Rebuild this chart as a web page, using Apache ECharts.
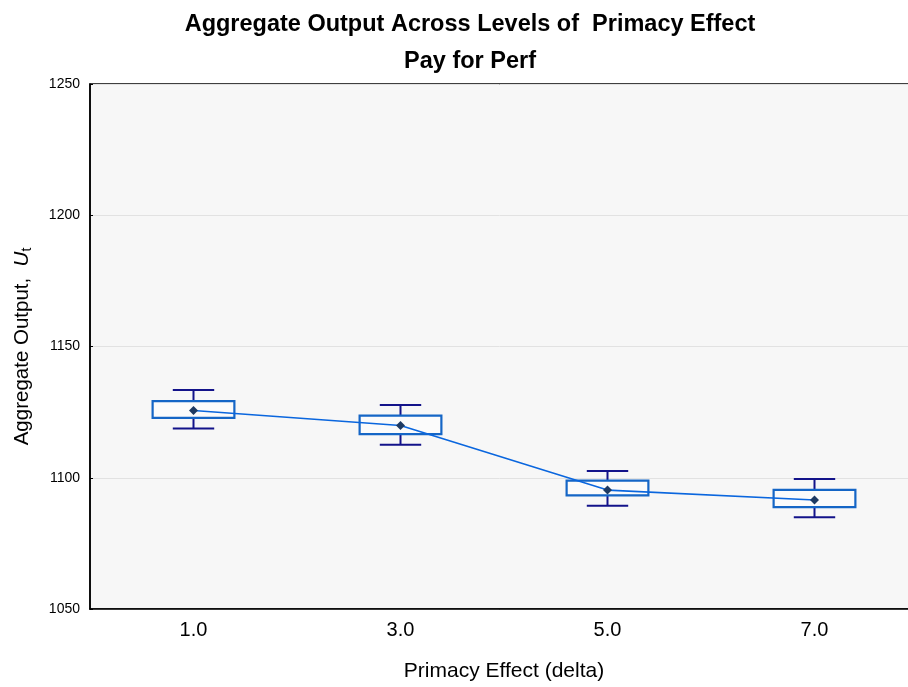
<!DOCTYPE html>
<html>
<head>
<meta charset="UTF-8">
<title>Aggregate Output Across Levels of Primacy Effect</title>
<script src="https://cdn.jsdelivr.net/npm/echarts@6/dist/echarts.min.js"></script>
<style>
	html, body { margin: 0; padding: 0; background: #fff; }
	#main { width: 908px; height: 687px; }
</style>
</head>
<body>
<div id="main"></div>
<script>
	// data
	var categories = ['1.0', '3.0', '5.0', '7.0'];
	var means = [1125.6, 1119.9, 1095.3, 1091.5];
	var boxLow = [1122.8, 1116.6, 1093.3, 1088.8];
	var boxHigh = [1129.2, 1123.7, 1098.9, 1095.4];
	var whiskerLow = [1118.8, 1112.6, 1089.3, 1085.0];
	var whiskerHigh = [1133.4, 1127.7, 1102.6, 1099.5];

	var font = 'Liberation Sans, Arial, sans-serif';

	var boxData = [];
	for (var i = 0; i < categories.length; i++) {
		boxData.push([i, whiskerLow[i], boxLow[i], boxHigh[i], whiskerHigh[i]]);
	}

	function renderBox(params, api) { // whiskers navy, box blue
		var x = api.value(0);
		var lo = api.coord([x, api.value(1)]);
		var q1 = api.coord([x, api.value(2)]);
		var q3 = api.coord([x, api.value(3)]);
		var hi = api.coord([x, api.value(4)]);
		var band = api.size([1, 0])[0];
		var bw = band * 0.395;
		var cw = band * 0.2;
		var cx = lo[0];
		var wStyle = { stroke: '#13138A', lineWidth: 2 };
		return {
			type: 'group',
			children: [
				{ type: 'line', shape: { x1: cx, y1: q3[1], x2: cx, y2: hi[1] }, style: wStyle },
				{ type: 'line', shape: { x1: cx, y1: q1[1], x2: cx, y2: lo[1] }, style: wStyle },
				{ type: 'line', shape: { x1: cx - cw / 2, y1: hi[1], x2: cx + cw / 2, y2: hi[1] }, style: wStyle },
				{ type: 'line', shape: { x1: cx - cw / 2, y1: lo[1], x2: cx + cw / 2, y2: lo[1] }, style: wStyle },
				{ type: 'rect', shape: { x: cx - bw / 2, y: q3[1], width: bw, height: q1[1] - q3[1] },
					style: { fill: '#FBFBFB', stroke: '#1566C6', lineWidth: 2.2 } }
			]
		};
	}

	var chart = echarts.init(document.getElementById('main'));
	chart.setOption({
		animation: false,
		backgroundColor: '#fff',
		title: [
			{ text: 'Aggregate Output Across Levels of  Primacy Effect', left: 465, top: 8, textAlign: 'center',
				textStyle: { fontFamily: font, fontSize: 23.5, fontWeight: 'bold', color: '#000' } },
			{ text: 'Pay for Perf', left: 465, top: 45, textAlign: 'center',
				textStyle: { fontFamily: font, fontSize: 23.5, fontWeight: 'bold', color: '#000' } }
		],
		grid: {
			left: 90, width: 828, top: 84, bottom: 78,
			outerBoundsMode: 'none', containLabel: false,
			show: true, backgroundColor: '#F7F7F7', borderColor: '#000', borderWidth: 1.5
		},
		xAxis: {
			type: 'category',
			data: categories,
			name: 'Primacy Effect (delta)',
			nameLocation: 'middle',
			nameGap: 52,
			nameTextStyle: { fontFamily: font, fontSize: 21, color: '#000', verticalAlign: 'top' },
			axisLine: { lineStyle: { color: '#000', width: 1.5 } },
			axisTick: { alignWithLabel: true, inside: true, length: 4, lineStyle: { color: '#000' } },
			axisLabel: { fontFamily: font, fontSize: 20, color: '#000', margin: 11 },
			splitLine: { show: false }
		},
		yAxis: {
			type: 'value',
			min: 1050, max: 1250, interval: 50,
			name: '{a|Aggregate Output,  }{i|U}{s|t}',
			nameLocation: 'middle',
			nameGap: 56,
			nameRotate: 90,
			nameTextStyle: {
				fontFamily: font, fontSize: 20, color: '#000',
				rich: {
					a: { fontFamily: font, fontSize: 20.5, color: '#000' },
					i: { fontFamily: font, fontSize: 20.5, fontStyle: 'italic', color: '#000' },
					s: { fontFamily: font, fontSize: 14, color: '#000', padding: [9, 0, 0, 0] }
				}
			},
			axisLine: { show: true, lineStyle: { color: '#000', width: 1.5 } },
			axisTick: { show: true, inside: true, length: 3, lineStyle: { color: '#000' } },
			axisLabel: {
				fontFamily: font, fontSize: 14, color: '#000', margin: 10,
				formatter: function (v) { return String(v); }
			},
			splitLine: { show: true, lineStyle: { color: '#E2E2E2', width: 1 } }
		},
		series: [
			{
				type: 'custom',
				renderItem: renderBox,
				encode: { x: 0, y: [1, 2, 3, 4] },
				data: boxData,
				z: 2
			},
			{
				type: 'line',
				data: means,
				symbol: 'diamond',
				symbolSize: 9,
				lineStyle: { color: '#0A66DE', width: 1.6 },
				itemStyle: { color: '#1E3A62' },
				z: 3
			}
		]
	});
</script>
</body>
</html>
